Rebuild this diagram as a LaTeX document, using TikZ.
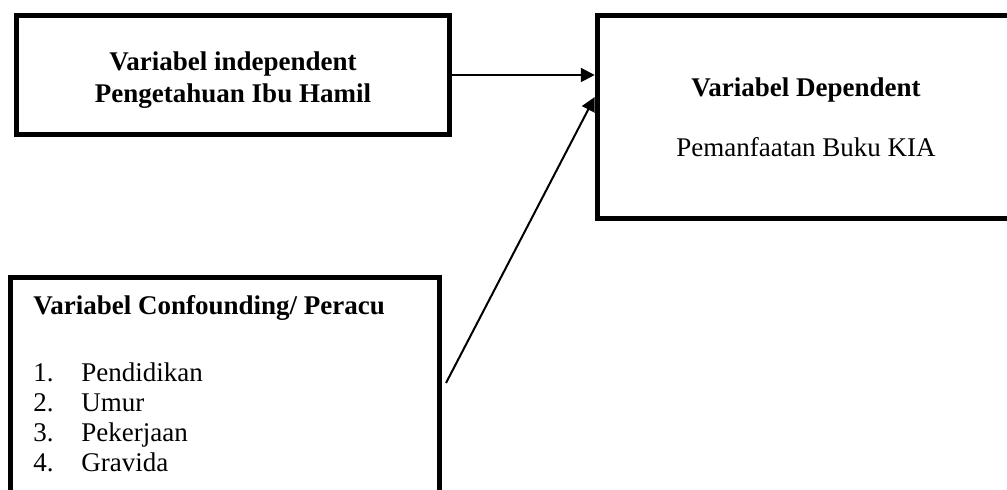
\documentclass[tikz,border=0pt]{standalone}
\usepackage{fontspec}
\setmainfont{Liberation Serif}
\usetikzlibrary{
    arrows.meta,
    positioning,
    calc
}
\tikzset{
  varbox/.style  = {draw, line width=2.5pt, inner sep=0pt, align=center,
                    font=\fontsize{13.5}{16}\selectfont},
  listtxt/.style = {inner sep=0pt, align=left,
                    font=\fontsize{13.5}{15}\selectfont},
  conn/.style    = {-{Triangle[length=7pt, width=7pt]}, line width=1pt}
}
\newcommand{\itemno}[1]{\makebox[24pt][l]{#1}}

\begin{document}
\begin{tikzpicture}[x=0.5pt, y=-0.5pt]

  %% ── Frame of the page ────────────────────────────────────────
  \useasboundingbox (0,0) rectangle (1007,490);
  \clip (0,0) rectangle (1007,490);

  %% ── Boxes ────────────────────────────────────────────────────
  % independent variable
  \node[varbox, minimum width=216.5pt, minimum height=59.5pt] (indep)
    at (233,75) {\rule{0pt}{14pt}\textbf{Variabel independent}\\
                 \textbf{Pengetahuan Ibu Hamil}};
  % dependent variable
  \node[varbox, minimum width=208.75pt, minimum height=101.25pt] (dep)
    at (806,117) {\textbf{Variabel Dependent}\\[14pt]Pemanfaatan Buku KIA};
  % confounding variables (runs off the bottom of the page)
  \node[varbox, minimum width=214.5pt, minimum height=130pt] (conf)
    at (225,407.5) {};
  \node[listtxt, anchor=north west] (conflist) at (33,295) {%
    \textbf{Variabel Confounding/ Peracu}\\[18.5pt]
    \itemno{1.}Pendidikan\\
    \itemno{2.}Umur\\
    \itemno{3.}Pekerjaan\\
    \itemno{4.}Gravida};

  %% ── Arrows ───────────────────────────────────────────────────
  \coordinate (confout) at (446,383);
  \coordinate (hity)    at (0,97);
  \draw[conn] (indep.east) -- (indep.east -| dep.west);
  \draw[conn] (confout) -- (dep.west |- hity);

\end{tikzpicture}
\end{document}
